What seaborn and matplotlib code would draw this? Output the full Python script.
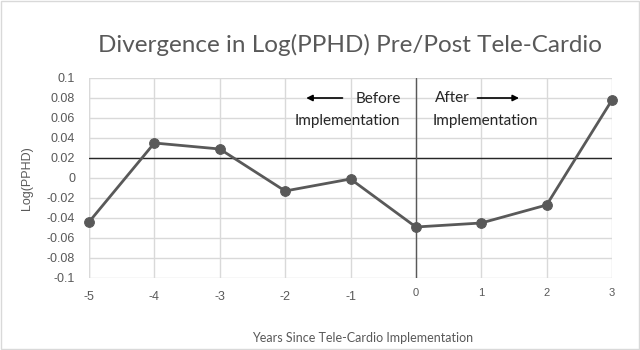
import pandas as pd
import matplotlib.pyplot as plt
import seaborn as sns

# Values
years = [-5, -4, -3, -2, -1, 0, 1, 2, 3]
log_pphd = [-0.044, 0.035, 0.029, -0.013, -0.001, -0.049, -0.045, -0.027, 0.078]
y_ticks = [-0.1, -0.08, -0.06, -0.04, -0.02, 0, 0.02, 0.04, 0.06, 0.08, 0.1]
y_labels = ["-0.1", "-0.08", "-0.06", "-0.04", "-0.02", "0", "0.02", "0.04", "0.06", "0.08", "0.1"]
x_labels = ["-5", "-4", "-3", "-2", "-1", "0", "1", "2", "3"]

df = pd.DataFrame({"Year": years, "LogPPHD": log_pphd})

sns.set_style("white")
plt.rcParams['font.family'] = ['Liberation Sans', 'DejaVu Sans']
plt.rcParams['axes.unicode_minus'] = False

fig = plt.figure(figsize=(6.4, 3.5), dpi=100)
ax = fig.add_axes([89 / 640, 1 - 278 / 350, (612 - 89) / 640, 200 / 350])

ax.set_xlim(-5, 3)
ax.set_ylim(-0.1, 0.1)
ax.set_yticks(y_ticks)
ax.set_yticklabels(y_labels)
ax.set_xticks(years)
ax.set_xticklabels(x_labels)
ax.grid(True, color="#d9d9d9", linewidth=1)
for s in ax.spines.values():
    s.set_visible(False)
ax.axvline(-5, color="#d9d9d9", lw=1, zorder=1)

# reference lines
ax.axhline(0.02, color="#262626", lw=1, zorder=2)
ax.axvline(0, color="#595959", lw=1, zorder=2)

sns.lineplot(data=df, x="Year", y="LogPPHD", ax=ax, color="#595959", lw=2,
             marker="o", markersize=7, markeredgecolor="#595959", zorder=3, clip_on=False)

ax.tick_params(axis="both", length=0, labelsize=9, colors="#595959")
ax.tick_params(axis="x", pad=9)
ax.tick_params(axis="y", pad=10)
for lbl in ax.get_xticklabels():
    if lbl.get_text() in ("0", "1", "2", "3"):
        lbl.set_fontsize(8)
        lbl.set_y(0.012)

ax.set_xlabel("Years Since Tele-Cardio Implementation", fontsize=9, color="#595959",
              family="Lato", labelpad=20)
ax.xaxis.set_label_coords((363 - 89) / 523, -0.27)
ax.set_ylabel("Log(PPHD)", fontsize=9, color="#595959", labelpad=10)

fig.text(350 / 640, 1 - 45 / 350, "Divergence in Log(PPHD) Pre/Post Tele-Cardio",
         ha="center", va="center", fontsize=17.5, color="#595959", family="Lato")

# annotations
ax.text(-0.58, 0.079, "Before", ha="center", va="center", fontsize=11, family="Lato")
ax.text(-1.05, 0.057, "Implementation", ha="center", va="center", fontsize=11, family="Lato")
ax.text(0.55, 0.080, "After", ha="center", va="center", fontsize=11, family="Lato")
ax.text(1.07, 0.057, "Implementation", ha="center", va="center", fontsize=11, family="Lato")
ax.annotate("", xy=(-1.72, 0.080), xytext=(-1.08, 0.080),
            arrowprops=dict(arrowstyle="-|>", color="black", lw=1.2, mutation_scale=9))
ax.annotate("", xy=(1.62, 0.080), xytext=(0.9, 0.080),
            arrowprops=dict(arrowstyle="-|>", color="black", lw=1.2, mutation_scale=9))

# light border around the figure
fig.patches.append(plt.Rectangle((0.002, 0.003), 0.996, 0.994, transform=fig.transFigure,
                                 fill=False, edgecolor="#d9d9d9", lw=1))

fig.savefig("out.png", dpi=100)
